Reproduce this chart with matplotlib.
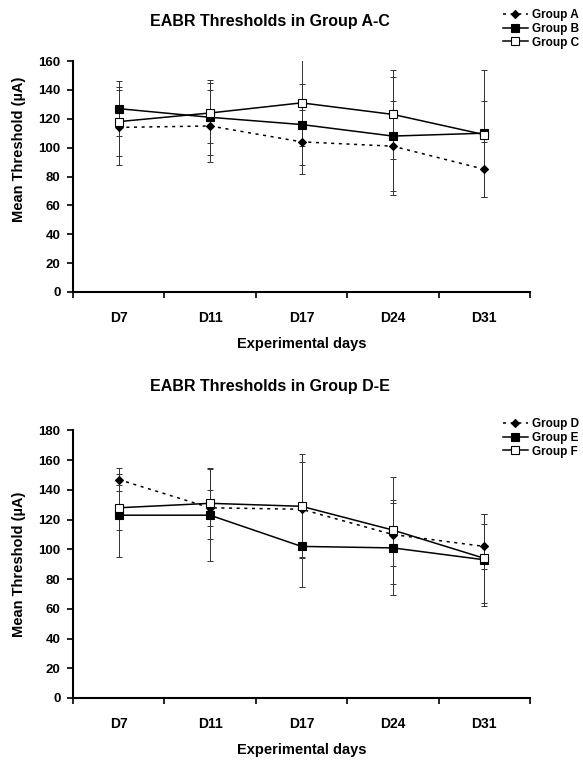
import matplotlib
matplotlib.use('Agg')
import matplotlib.pyplot as plt

plt.rcParams['font.family'] = 'Liberation Sans'
plt.rcParams['font.weight'] = 'bold'

days = ['D7', 'D11', 'D17', 'D24', 'D31']

# Group A-C
group_a = [114, 115, 104, 101, 85]
group_a_err = [26, 25, 22, 31, 19]
group_b = [127, 121, 116, 108, 110]
group_b_err = [19, 26, 28, 41, 44]
group_c = [118, 124, 131, 123, 109]
group_c_err = [24, 21, 30, 31, 23]

# Group D-F
group_d = [147, 128, 127, 110, 102]
group_d_err = [8, 12, 32, 21, 15]
group_e = [123, 123, 102, 101, 93]
group_e_err = [28, 31, 27, 32, 31]
group_f = [128, 131, 129, 113, 94]
group_f_err = [15, 24, 35, 36, 30]

W, H = 583, 764
fig = plt.figure(figsize=(W / 100, H / 100), dpi=100)


def draw(ax, series, ymax, title, title_pad, legend_y, ylabel_y):
    x = list(range(len(days)))
    styles = [
        dict(marker='D', markersize=4, mfc='black', mec='black', ls=(0, (2, 3))),
        dict(marker='s', markersize=6, mfc='black', mec='black', ls='-'),
        dict(marker='s', markersize=6, mfc='white', mec='black', ls='-'),
    ]
    handles = []
    for (vals, errs, label), st in zip(series, styles):
        ax.errorbar(x, vals, yerr=errs, fmt='none', ecolor='#333333',
                    elinewidth=0.7, capsize=2, capthick=0.7, zorder=2)
        h, = ax.plot(x, vals, color='black', lw=1.1, label=label, zorder=3,
                     markeredgewidth=0.8, **st)
        handles.append(h)
    ax.set_xlim(-0.5, len(days) - 0.5)
    ax.set_ylim(0, ymax)
    ax.set_yticks(range(0, ymax + 1, 20))
    ax.set_xticks([i - 0.5 for i in range(len(days) + 1)])
    ax.set_xticklabels([])
    ax.set_xticks(x, minor=True)
    ax.set_xticklabels(days, minor=True)
    ax.tick_params(axis='x', which='minor', length=0, pad=14, labelsize=10)
    ax.tick_params(axis='x', which='major', length=4, width=1.2, direction='out')
    ax.tick_params(axis='y', length=4, width=1.2, direction='out', labelsize=9.5, pad=5)
    for s in ['top', 'right']:
        ax.spines[s].set_visible(False)
    for s in ['left', 'bottom']:
        ax.spines[s].set_linewidth(1.5)
    ax.set_xlabel('Experimental days', fontsize=10.5, fontweight='bold', labelpad=8)
    ax.set_ylabel('Mean Threshold (µA)', fontsize=10.5, fontweight='bold')
    ax.yaxis.set_label_coords(-0.103, ylabel_y)
    ax.set_title(title, fontsize=11.5, fontweight='bold', pad=title_pad, x=0.43)
    fig.legend(handles=handles, loc='upper left', bbox_to_anchor=(503 / W, 1 - legend_y / H),
               frameon=False, fontsize=8.5, handlelength=2.1, handletextpad=0.35,
               labelspacing=0.15, borderpad=0, borderaxespad=0)


ax1 = fig.add_axes([73 / W, 1 - 292 / H, 457 / W, 231 / H])
draw(ax1, [(group_a, group_a_err, 'Group A'), (group_b, group_b_err, 'Group B'),
           (group_c, group_c_err, 'Group C')], 160, 'EABR Thresholds in Group A-C',
     25.5, 9, 0.617)

ax2 = fig.add_axes([73 / W, 1 - 698 / H, 457 / W, 267.5 / H])
draw(ax2, [(group_d, group_d_err, 'Group D'), (group_e, group_e_err, 'Group E'),
           (group_f, group_f_err, 'Group F')], 180, 'EABR Thresholds in Group D-E',
     28.5, 418, 0.5)

fig.savefig('out.png', dpi=100)
